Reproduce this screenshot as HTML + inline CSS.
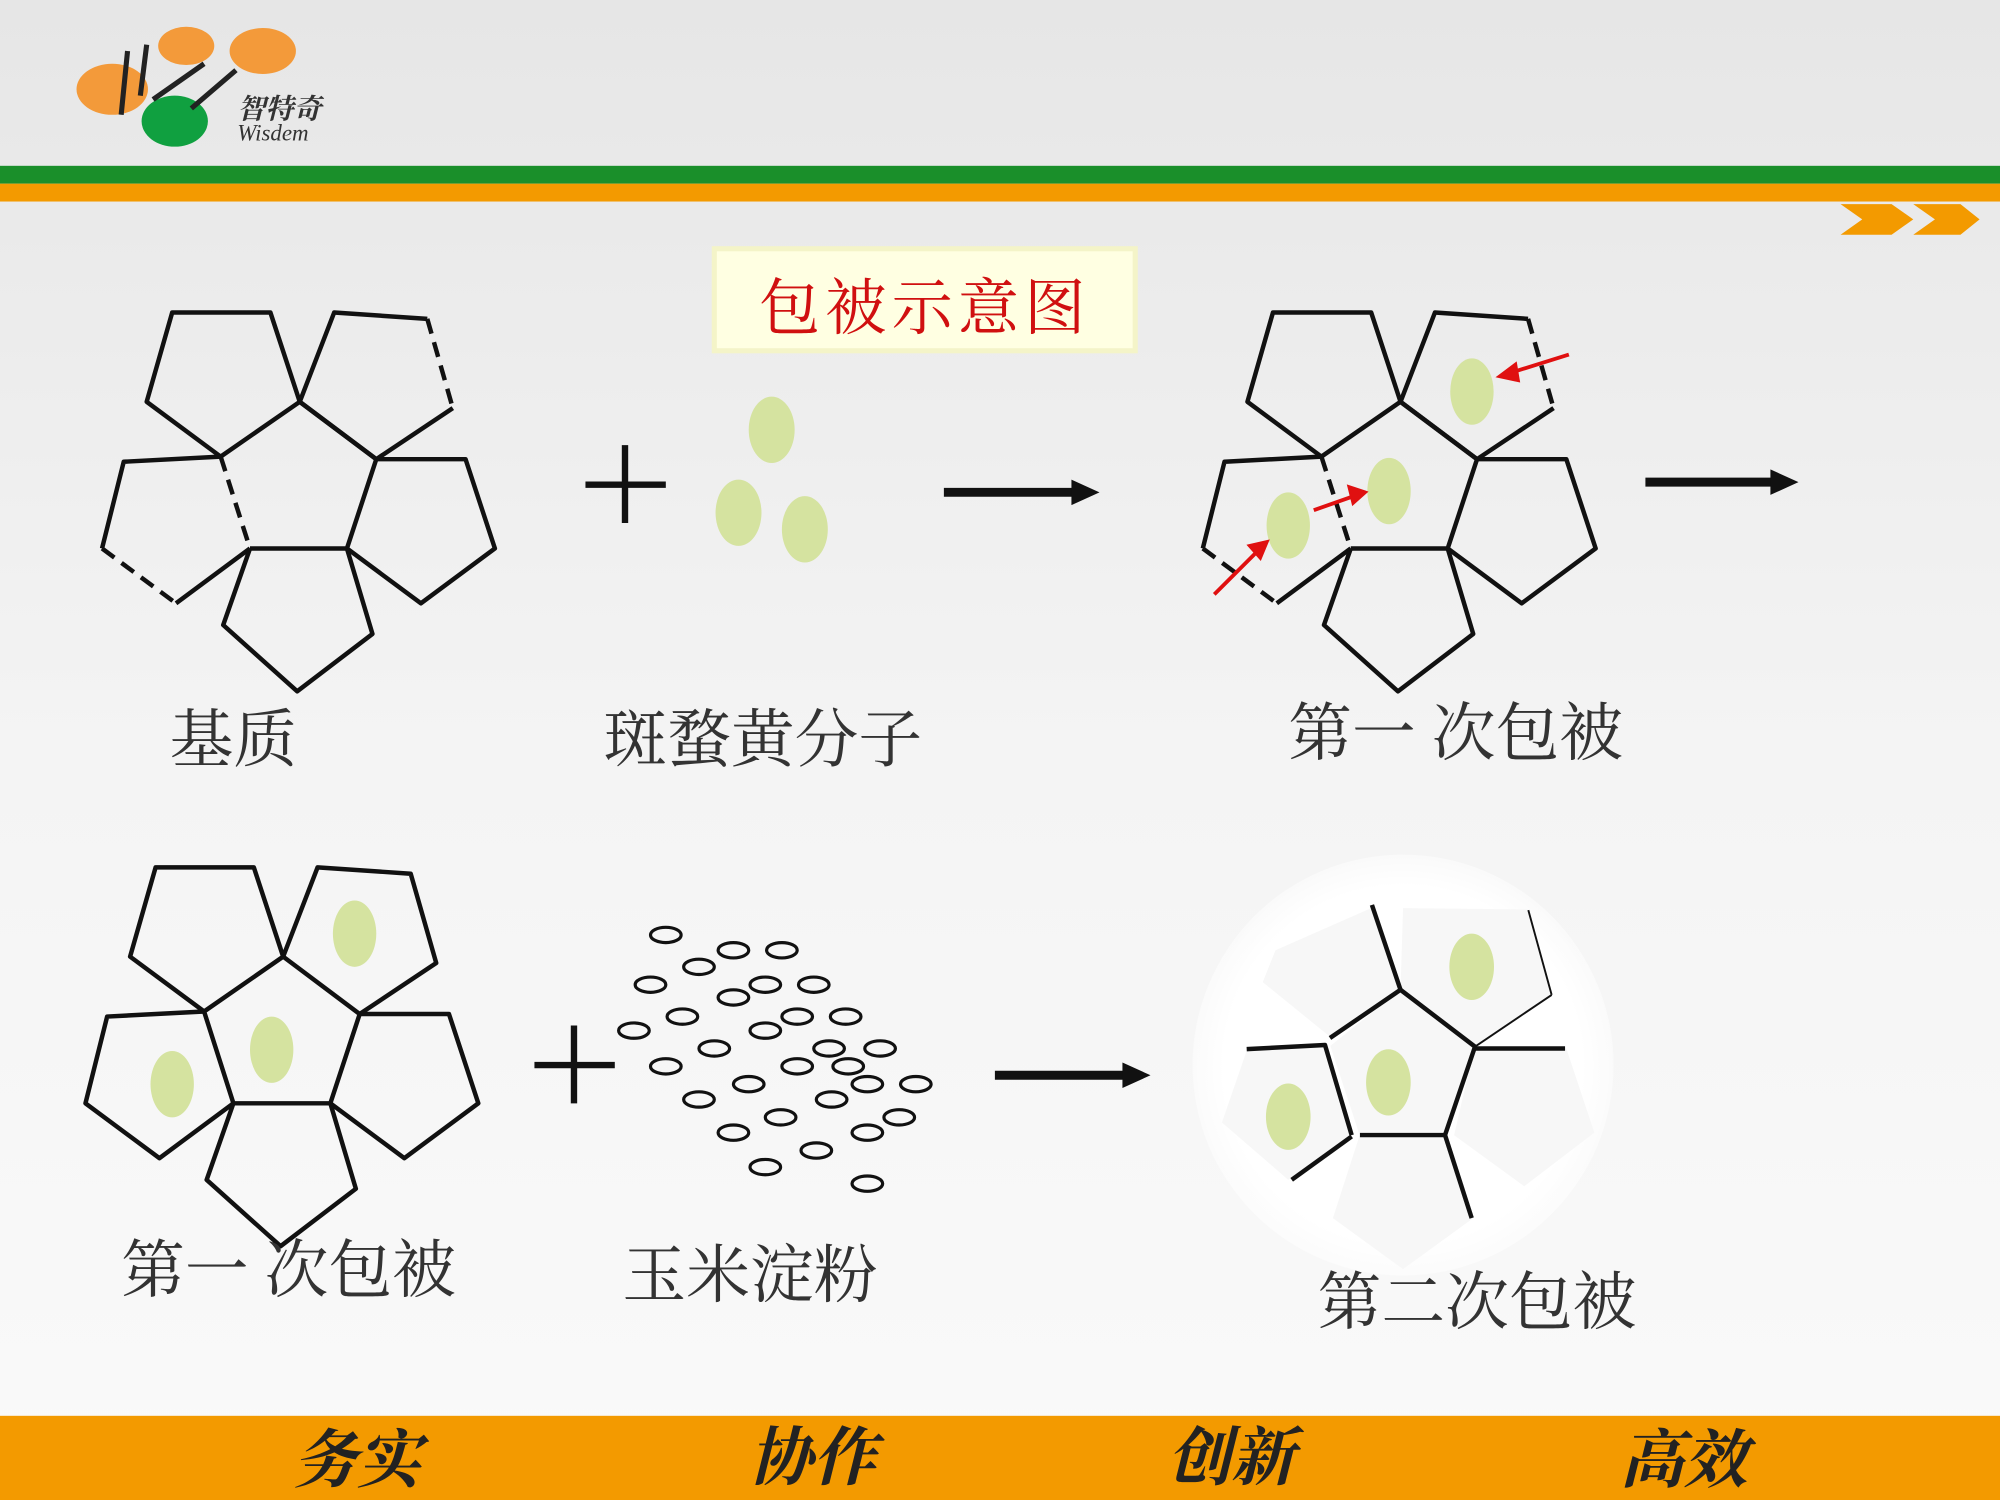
<!DOCTYPE html>
<html><head><meta charset="utf-8"><style>
html,body{margin:0;padding:0;width:2000px;height:1500px;overflow:hidden;background:#f2f2f2}
svg{display:block}
text{font-family:"Liberation Serif","Noto Serif CJK SC",serif}
</style></head><body>
<svg width="2000" height="1500" viewBox="0 0 1568 1176" xmlns="http://www.w3.org/2000/svg">
<defs>
<linearGradient id="bg" x1="0" y1="0" x2="0" y2="1">
<stop offset="0" stop-color="#e6e6e6"/><stop offset="0.5" stop-color="#f4f4f4"/><stop offset="1" stop-color="#fafafa"/>
</linearGradient>
<radialGradient id="wc"><stop offset="0.85" stop-color="#fff"/><stop offset="1" stop-color="#fff" stop-opacity="0.5"/></radialGradient>
</defs>
<rect width="1568" height="1176" fill="url(#bg)"/>
<rect y="130" width="1568" height="14" fill="#1a8f2a"/>
<rect y="144" width="1568" height="14" fill="#f39a00"/>
<polygon points="1443,160 1483,160 1500,172 1483,184 1443,184 1460,172" fill="#f39a00"/>
<polygon points="1500,160 1537,160 1552,172 1537,184 1500,184 1517,172" fill="#f39a00"/>
<ellipse cx="206" cy="40" rx="26" ry="18" fill="#f39a3a"/>
<ellipse cx="146" cy="36" rx="22" ry="15" fill="#f39a3a"/>
<ellipse cx="88" cy="70" rx="28" ry="20" fill="#f39a3a"/>
<ellipse cx="137" cy="95" rx="26" ry="20" fill="#10a040"/>
<path d="M100,40 L95,90 M115,35 L110,75 M160,50 L120,78 M185,55 L150,85" stroke="#222" stroke-width="4" fill="none"/>
<text x="186" y="93" font-size="22" font-weight="bold" font-style="italic" fill="#333">智特奇</text>
<text x="186" y="110" font-size="18" font-style="italic" fill="#333" font-family="Liberation Sans">Wisdem</text>
<rect x="560" y="195" width="330" height="80" fill="#ffffe2" stroke="#f4f4c8" stroke-width="4"/>
<text x="725" y="258" font-size="48" fill="#d01010" text-anchor="middle" letter-spacing="4">包被示意图</text>

<g stroke="#111" stroke-width="3.5" fill="none" stroke-linejoin="round">
<polyline points="173,358 115,315 135,245 212,245 235,315"/>
<polyline points="335,250 262,245 235,315 295,360"/>
<line x1="335" y1="250" x2="355" y2="320" stroke-dasharray="12,7"/>
<line x1="355" y1="320" x2="295" y2="360"/>
<polyline points="173,358 235,315 295,360 272,430 196,430"/>
<line x1="173" y1="358" x2="196" y2="430" stroke-dasharray="12,7"/>
<polyline points="173,358 97,362 80,430"/>
<line x1="80" y1="430" x2="138" y2="473" stroke-dasharray="12,7"/>
<line x1="138" y1="473" x2="196" y2="430"/>
<polyline points="295,360 365,360 388,430 330,473 272,430"/>
<polyline points="196,430 175,490 233,542 292,497 272,430"/>
</g>

<g transform="translate(863,0)" stroke="#111" stroke-width="3.5" fill="none" stroke-linejoin="round">
<polyline points="173,358 115,315 135,245 212,245 235,315"/>
<polyline points="335,250 262,245 235,315 295,360"/>
<line x1="335" y1="250" x2="355" y2="320" stroke-dasharray="12,7"/>
<line x1="355" y1="320" x2="295" y2="360"/>
<polyline points="173,358 235,315 295,360 272,430 196,430"/>
<line x1="173" y1="358" x2="196" y2="430" stroke-dasharray="12,7"/>
<polyline points="173,358 97,362 80,430"/>
<line x1="80" y1="430" x2="138" y2="473" stroke-dasharray="12,7"/>
<line x1="138" y1="473" x2="196" y2="430"/>
<polyline points="295,360 365,360 388,430 330,473 272,430"/>
<polyline points="196,430 175,490 233,542 292,497 272,430"/>
</g>
<g fill="#d5e3a0">
<ellipse cx="1154" cy="307" rx="17" ry="26"/>
<ellipse cx="1089" cy="385" rx="17" ry="26"/>
<ellipse cx="1010" cy="412" rx="17" ry="26"/>
<ellipse cx="605" cy="337" rx="18" ry="26"/>
<ellipse cx="579" cy="402" rx="18" ry="26"/>
<ellipse cx="631" cy="415" rx="18" ry="26"/>
</g>
<g stroke="#e01010" stroke-width="3" fill="#e01010">
<line x1="1230" y1="278" x2="1182" y2="293"/><polygon points="1176,295 1188,286 1190,298"/>
<line x1="1030" y1="400" x2="1064" y2="388"/><polygon points="1070,386 1058,382 1061,394"/>
<line x1="952" y1="466" x2="988" y2="430"/><polygon points="993,425 980,428 988,437"/>
</g>

<g transform="translate(-13,435)" stroke="#111" stroke-width="3.5" fill="none" stroke-linejoin="round">
<polyline points="173,358 115,315 135,245 212,245 235,315"/>
<polyline points="235,315 262,245 335,250 355,320 295,360"/>
<polygon points="235,315 295,360 272,430 196,430 173,358"/>
<polyline points="173,358 97,362 80,430 138,473 196,430"/>
<polyline points="295,360 365,360 388,430 330,473 272,430"/>
<polyline points="196,430 175,490 233,542 292,497 272,430"/>
</g>
<g fill="#d5e3a0">
<ellipse cx="278" cy="732" rx="17" ry="26"/>
<ellipse cx="213" cy="823" rx="17" ry="26"/>
<ellipse cx="135" cy="850" rx="17" ry="26"/>
</g>

<circle cx="1100" cy="835" r="165" fill="url(#wc)"/>
<g fill="#f7f7f7">
<polygon points="1098,776 1156,821 1133,890 1066,890 1043,820"/>
<polygon points="1066,890 1133,890 1155,955 1100,995 1045,955"/>
<polygon points="1156,821 1228,822 1250,888 1195,930 1140,890"/>
<polygon points="1040,820 978,822 958,880 1010,925 1060,890"/>
<polygon points="1000,745 1075,712 1098,776 1043,813 990,770"/>
<polygon points="1098,776 1100,712 1198,713 1216,780 1156,821"/>
</g>
<g stroke="#111" stroke-width="3.5" fill="none" stroke-linejoin="round">
<line x1="1075.6" y1="709.5" x2="1098" y2="776"/>
<line x1="1098" y1="776" x2="1042.7" y2="813.8"/>
<polyline points="1098,776 1156.4,820.6 1132.9,889.9"/>
<line x1="1066.2" y1="889.9" x2="1132.9" y2="889.9"/>
<polyline points="977.4,822.5 1038.8,819.3 1059.7,889.9"/>
<line x1="1059.7" y1="891" x2="1012.7" y2="925"/>
<line x1="1156.4" y1="822" x2="1227" y2="822"/>
<line x1="1132.9" y1="889.9" x2="1153.8" y2="955"/>
</g>
<g stroke="#111" stroke-width="1.5" fill="none">
<line x1="1156.4" y1="820.6" x2="1216.5" y2="780"/>
<line x1="1198.2" y1="713.5" x2="1216.5" y2="780"/>
</g>
<g fill="#d5e3a0">
<ellipse cx="1153.8" cy="758" rx="17.5" ry="26"/>
<ellipse cx="1088.5" cy="848.6" rx="17.5" ry="26"/>
<ellipse cx="1010" cy="875.5" rx="17.5" ry="26"/>
</g>

<g stroke="#111" stroke-width="5">
<line x1="459" y1="380" x2="522" y2="380"/><line x1="490" y1="349" x2="490" y2="410"/>
<line x1="419" y1="835" x2="482" y2="835"/><line x1="450" y1="804" x2="450" y2="865"/>
</g>
<g stroke="#111" stroke-width="7">
<line x1="740" y1="386" x2="845" y2="386"/>
<line x1="1290" y1="378" x2="1393" y2="378"/>
<line x1="780" y1="843" x2="885" y2="843"/>
</g>
<g fill="#111">
<polygon points="862,386 840,376 840,396"/>
<polygon points="1410,378 1388,368 1388,388"/>
<polygon points="902,843 880,833 880,853"/>
</g>

<g stroke="#111" stroke-width="2.5" fill="none">
<ellipse cx="522" cy="733" rx="12" ry="6"/><ellipse cx="575" cy="745" rx="12" ry="6"/><ellipse cx="613" cy="745" rx="12" ry="6"/>
<ellipse cx="510" cy="772" rx="12" ry="6"/><ellipse cx="548" cy="758" rx="12" ry="6"/><ellipse cx="600" cy="772" rx="12" ry="6"/><ellipse cx="638" cy="772" rx="12" ry="6"/>
<ellipse cx="535" cy="797" rx="12" ry="6"/><ellipse cx="575" cy="782" rx="12" ry="6"/><ellipse cx="625" cy="797" rx="12" ry="6"/><ellipse cx="663" cy="797" rx="12" ry="6"/>
<ellipse cx="497" cy="808" rx="12" ry="6"/><ellipse cx="522" cy="836" rx="12" ry="6"/><ellipse cx="560" cy="822" rx="12" ry="6"/><ellipse cx="600" cy="808" rx="12" ry="6"/>
<ellipse cx="650" cy="822" rx="12" ry="6"/><ellipse cx="690" cy="822" rx="12" ry="6"/><ellipse cx="548" cy="862" rx="12" ry="6"/><ellipse cx="587" cy="850" rx="12" ry="6"/>
<ellipse cx="625" cy="836" rx="12" ry="6"/><ellipse cx="665" cy="836" rx="12" ry="6"/><ellipse cx="718" cy="850" rx="12" ry="6"/><ellipse cx="575" cy="888" rx="12" ry="6"/>
<ellipse cx="612" cy="876" rx="12" ry="6"/><ellipse cx="652" cy="862" rx="12" ry="6"/><ellipse cx="680" cy="850" rx="12" ry="6"/><ellipse cx="705" cy="876" rx="12" ry="6"/>
<ellipse cx="600" cy="915" rx="12" ry="6"/><ellipse cx="640" cy="902" rx="12" ry="6"/><ellipse cx="680" cy="888" rx="12" ry="6"/><ellipse cx="680" cy="928" rx="12" ry="6"/>
</g>

<g font-size="50" fill="#333">
<text x="133" y="597">基质</text>
<text x="473" y="597">斑蝥黄分子</text>
<text x="1010" y="592">第一 次包被</text>
<text x="95" y="1013">第一 次包被</text>
<text x="488" y="1017">玉米淀粉</text>
<text x="1033" y="1038">第二次包被</text>
</g>

<rect y="1110" width="1568" height="66" fill="#f39a00"/>
<g font-size="50" font-weight="bold" font-style="italic" fill="#222">
<text x="230" y="1162">务实</text>
<text x="587" y="1160">协作</text>
<text x="915" y="1160">创新</text>
<text x="1270" y="1162">高效</text>
</g>
</svg>
</body></html>
